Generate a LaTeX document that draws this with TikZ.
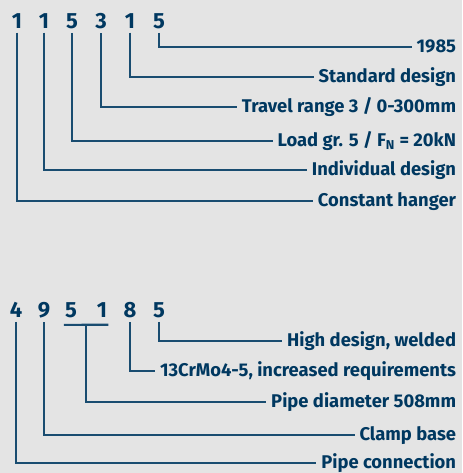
\documentclass[tikz,border=0pt]{standalone}
\usepackage{fontspec}
\setmainfont{Fira Sans}
\usetikzlibrary{calc}
\definecolor{navy}{RGB}{0,56,96}
\definecolor{bggray}{RGB}{228,228,228}
\tikzset{
  digit/.style={inner xsep=0pt, inner ysep=3pt, text=navy,
                font=\fontsize{16.5}{18}\selectfont\bfseries},
  desc/.style={anchor=east, inner xsep=3.5pt, inner ysep=0pt, text=navy,
               font=\fontsize{13.8}{16}\selectfont\bfseries,
               text height=2ex, text depth=0.4ex},
  lead/.style={draw=navy!90, line width=1pt},
}
\begin{document}
\begin{tikzpicture}[x=0.75pt, y=-0.75pt]
\fill[bggray] (0,0) rectangle (462,473);
\useasboundingbox (0,0) rectangle (462,473);
% type code of the constant hanger
\node[digit] (t1) at (17,21) {1};
\node[digit] (t2) at (44,21) {1};
\node[digit] (t3) at (72,21) {5};
\node[digit] (t4) at (101,21) {3};
\node[digit] (t5) at (130,21) {1};
\node[digit] (t6) at (159,21) {5};
\node[desc] (tl6) at (461,47) {1985};
\node[desc] (tl5) at (461,77) {Standard design};
\node[desc] (tl4) at (461,107) {Travel range 3 / 0-300mm};
\node[desc] (tl3) at (461,141) {Load gr. 5 / F\textsubscript{N} = 20kN};
\node[desc] (tl2) at (461,170) {Individual design};
\node[desc] (tl1) at (461,201) {Constant hanger};
\foreach \d in {1,...,6} \draw[lead] (t\d.south) |- (tl\d.west);
% type code of the pipe clamp
\node[digit] (b1) at (16,310) {4};
\node[digit] (b2) at (44,310) {9};
\node[digit] (b3) at (71,310) {5};
\node[digit] (b4) at (102,310) {1};
\node[digit] (b5) at (130,310) {8};
\node[digit] (b6) at (159,310) {5};
\coordinate (u3) at ($(b3.south west)+(-1,3)$);
\coordinate (u4) at ($(b4.south east)+(1,3)$);
\draw[lead, line width=1.6pt] (u3) -- (u4);
\coordinate (b34) at ($(u3)!0.5!(u4)$);
\node[desc] (bl6) at (461,341) {High design, welded};
\node[desc] (bl5) at (461,371) {13CrMo4-5, increased requirements};
\node[desc] (bl34) at (461,402) {Pipe diameter 508mm};
\node[desc] (bl2) at (461,435) {Clamp base};
\node[desc] (bl1) at (461,463) {Pipe connection};
\foreach \d in {1,2,5,6} \draw[lead] (b\d.south) |- (bl\d.west);
\draw[lead] (b34) |- (bl34.west);
\end{tikzpicture}
\end{document}
